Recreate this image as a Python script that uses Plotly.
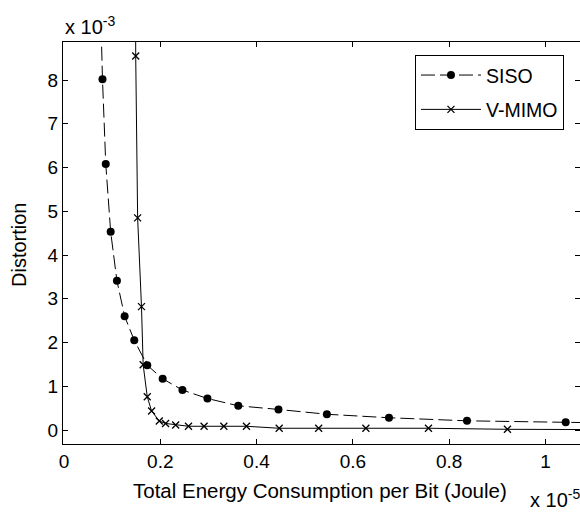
import plotly.graph_objects as go

# Energy per bit (x 1e-5 Joule) and distortion (x 1e-3)
siso_x = [0.074, 0.080, 0.0868, 0.097, 0.110, 0.126, 0.146, 0.173, 0.205, 0.246, 0.298, 0.362, 0.4455, 0.546, 0.675, 0.837, 1.042, 1.25]
siso_y = [10.5, 8.02, 6.08, 4.53, 3.41, 2.60, 2.05, 1.48, 1.17, 0.914, 0.72, 0.553, 0.47, 0.36, 0.28, 0.21, 0.176, 0.14]

vmimo_x = [0.148, 0.149, 0.153, 0.161, 0.1645, 0.173, 0.182, 0.198, 0.211, 0.232, 0.2586, 0.291, 0.332, 0.379, 0.447, 0.529, 0.627, 0.757, 0.921, 1.10]
vmimo_y = [13.0, 8.55, 4.85, 2.82, 1.49, 0.76, 0.434, 0.206, 0.15, 0.114, 0.085, 0.085, 0.085, 0.085, 0.04, 0.04, 0.04, 0.04, 0.016, 0.01]

x_ticks = [0, 0.2, 0.4, 0.6, 0.8, 1]
x_tick_labels = ["0", "0.2", "0.4", "0.6", "0.8", "1"]
y_ticks = [0, 1, 2, 3, 4, 5, 6, 7, 8]
y_tick_labels = ["0", "1", "2", "3", "4", "5", "6", "7", "8"]

font = "Liberation Sans, Arial, sans-serif"

fig = go.Figure()
fig.add_trace(go.Scatter(
    x=siso_x, y=siso_y, name="SISO", mode="lines+markers", legendgroup="a",
    line=dict(color="black", width=1, dash="14px,5px"),
    marker=dict(symbol="circle", size=8, color="black"),
))
fig.add_trace(go.Scatter(
    x=vmimo_x, y=vmimo_y, name="V-MIMO", mode="lines+markers", legendgroup="b",
    line=dict(color="black", width=1),
    marker=dict(symbol="x-thin", size=7, line=dict(color="black", width=1.3)),
))

axis_common = dict(
    showgrid=False, zeroline=False, showline=True, linecolor="black", linewidth=1,
    mirror="ticks", ticks="inside", ticklen=5, tickcolor="black",
    tickfont=dict(family=font, size=19, color="black"),
)

fig.update_layout(
    width=580, height=512,
    margin=dict(l=63, r=0, t=42, b=68),
    paper_bgcolor="white", plot_bgcolor="white",
    font=dict(family=font, color="black"),
    xaxis=dict(range=[-0.002, 1.0717], tickvals=x_ticks, ticktext=x_tick_labels, **axis_common),
    yaxis=dict(range=[-0.32, 8.87], tickvals=y_ticks, ticktext=y_tick_labels, **axis_common),
    legend=dict(x=0.969, y=0.968, xanchor="right", yanchor="top",
                bordercolor="black", borderwidth=1, bgcolor="white",
                font=dict(family=font, size=19.5), itemwidth=60, tracegroupgap=6),
    showlegend=True,
    annotations=[
        dict(text="Total Energy Consumption per Bit (Joule)", xref="paper", yref="paper",
             x=(320 - 63) / 517, y=0, xanchor="center", yanchor="middle", yshift=-46,
             showarrow=False, font=dict(family=font, size=20.5)),
        dict(text="Distortion", xref="paper", yref="paper", textangle=-90,
             x=0, y=(444 - 245) / 402, xanchor="center", yanchor="middle", xshift=-44,
             showarrow=False, font=dict(family=font, size=20)),
        dict(text="x 10<sup>-3</sup>", xref="paper", yref="paper", x=0, y=1.0,
             xanchor="left", yanchor="bottom", showarrow=False, yshift=2,
             font=dict(family=font, size=20)),
        dict(text="x 10<sup>-5</sup>", xref="paper", yref="paper", x=1.0, y=0,
             xanchor="right", yanchor="top", showarrow=False, yshift=-40, xshift=2,
             font=dict(family=font, size=20)),
    ],
)

fig.write_html("out.html")
